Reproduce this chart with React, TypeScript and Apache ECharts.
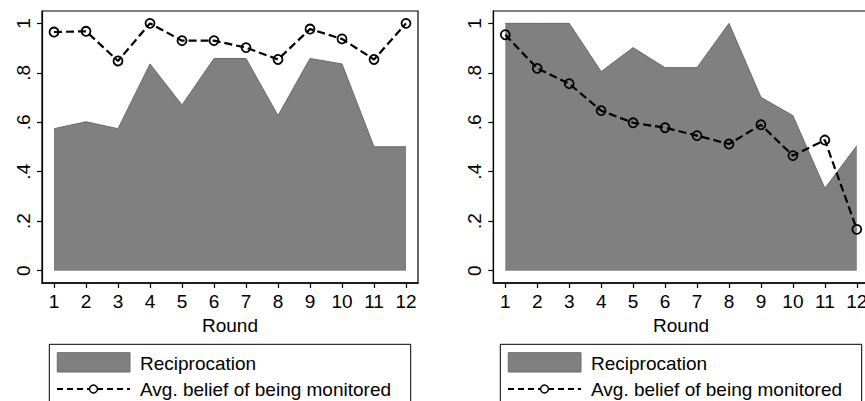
import React, { useEffect, useRef } from "react";
import * as echarts from "echarts";

const rounds = [1, 2, 3, 4, 5, 6, 7, 8, 9, 10, 11, 12];
const leftReciprocation = [0.574, 0.602, 0.574, 0.836, 0.67, 0.858, 0.858, 0.627, 0.858, 0.836, 0.501, 0.501];
const leftBelief = [0.965, 0.968, 0.848, 1.0, 0.93, 0.93, 0.902, 0.854, 0.977, 0.937, 0.854, 1.0];
const rightReciprocation = [1.0, 1.0, 1.0, 0.805, 0.902, 0.821, 0.821, 1.0, 0.701, 0.627, 0.333, 0.505];
const rightBelief = [0.954, 0.818, 0.756, 0.647, 0.598, 0.578, 0.546, 0.512, 0.59, 0.465, 0.528, 0.167];
const yTicks = [0, 0.2, 0.4, 0.6, 0.8, 1];
const yTickLabels = ["0", ".2", ".4", ".6", ".8", "1"];
const xTitle = "Round";
const nameArea = "Reciprocation";
const nameLine = "Avg. belief of being monitored";

const FONT = "Liberation Sans, Arial, sans-serif";
const FS = 19;

export default function App() {
  const ref = useRef<HTMLDivElement>(null);
  useEffect(() => {
    if (!ref.current) return;
    const chart = echarts.init(ref.current, undefined, { renderer: "svg" });
    const grids = [
      { left: 42, top: 11, width: 376, height: 272 },
      { left: 493.3, top: 11, width: 375.5, height: 272 },
    ];
    const xAxes = grids.map((_, i) => ({
      type: "value",
      gridIndex: i,
      min: 0.625,
      max: 12.375,
      name: xTitle,
      nameLocation: "middle",
      nameGap: 30,
      nameTextStyle: { fontFamily: FONT, fontSize: FS, color: "#000" },
      axisLine: { show: true, onZero: false, lineStyle: { color: "#000", width: 1.6 } },
      axisTick: { show: true, length: 5, customValues: rounds, lineStyle: { color: "#000", width: 1.2 } },
      axisLabel: { customValues: rounds, margin: 9, fontFamily: FONT, fontSize: FS, color: "#000", hideOverlap: false },
      splitLine: { show: false },
    }));
    const yAxes = grids.map((_, i) => ({
      type: "value",
      gridIndex: i,
      min: -0.05,
      max: 1.05,
      axisLine: { show: true, onZero: false, lineStyle: { color: "#000", width: 1.2 } },
      axisTick: { show: true, length: 5, customValues: yTicks, lineStyle: { color: "#000", width: 1.2 } },
      axisLabel: {
        customValues: yTicks,
        rotate: 90,
        margin: 9,
        fontFamily: FONT,
        fontSize: FS,
        color: "#000",
        formatter: (v: number) => {
          const idx = yTicks.findIndex((t) => Math.abs(t - v) < 1e-9);
          return idx >= 0 ? yTickLabels[idx] : "";
        },
      },
      splitLine: { show: false },
    }));
    const pairs = (vals: number[]) => rounds.map((r, i) => [r, vals[i]]);
    const areaSeries = (vals: number[], i: number) => ({
      type: "line",
      name: nameArea,
      xAxisIndex: i,
      yAxisIndex: i,
      data: pairs(vals),
      symbol: "none",
      lineStyle: { color: "#6a6a6a", width: 1 },
      areaStyle: { color: "#808080", opacity: 1 },
      z: 2,
    });
    const lineSeries = (vals: number[], i: number) => ({
      type: "line",
      name: nameLine,
      xAxisIndex: i,
      yAxisIndex: i,
      data: pairs(vals),
      symbol: "circle",
      symbolSize: 9,
      itemStyle: { color: "rgba(0,0,0,0)", borderColor: "#000", borderWidth: 1.8 },
      lineStyle: { color: "#000", width: 2.2, type: [8, 4] },
      z: 3,
    });
    const legendGroup = (dx: number) => ({
      type: "group",
      x: dx,
      y: 0,
      children: [
        {
          type: "rect",
          shape: { x: 49.3, y: 344.3, width: 361.4, height: 80 },
          style: { fill: "#fff", stroke: "#000", lineWidth: 1 },
        },
        {
          type: "rect",
          shape: { x: 57.3, y: 352.7, width: 72.7, height: 19.3 },
          style: { fill: "#808080", stroke: "#6a6a6a", lineWidth: 1 },
        },
        {
          type: "text",
          x: 140,
          y: 363,
          style: {
            text: nameArea,
            fontFamily: FONT,
            fontSize: FS,
            fill: "#000",
            verticalAlign: "middle",
            textVerticalAlign: "middle",
          },
        },
        {
          type: "line",
          shape: { x1: 57, y1: 389, x2: 130, y2: 389 },
          style: { stroke: "#000", lineWidth: 2, lineDash: [6, 4] },
        },
        {
          type: "circle",
          shape: { cx: 93.5, cy: 389, r: 4 },
          style: { fill: "#fff", stroke: "#000", lineWidth: 1.5 },
        },
        {
          type: "text",
          x: 140,
          y: 389,
          style: {
            text: nameLine,
            fontFamily: FONT,
            fontSize: FS,
            fill: "#000",
            verticalAlign: "middle",
            textVerticalAlign: "middle",
          },
        },
      ],
    });
    chart.setOption({
      animation: false,
      backgroundColor: "#fff",
      grid: grids.map((g) => ({
        ...g,
        show: true,
        borderColor: "#000",
        borderWidth: 1.2,
        backgroundColor: "#fff",
        containLabel: false,
        outerBoundsMode: "none",
      })),
      xAxis: xAxes,
      yAxis: yAxes,
      series: [
        areaSeries(leftReciprocation, 0),
        lineSeries(leftBelief, 0),
        areaSeries(rightReciprocation, 1),
        lineSeries(rightBelief, 1),
      ],
      graphic: [legendGroup(0), legendGroup(451)],
    });
    return () => chart.dispose();
  }, []);
  return (
    <div
      ref={ref}
      style={{ position: "absolute", left: 0, top: 0, width: 865, height: 401 }}
    />
  );
}
